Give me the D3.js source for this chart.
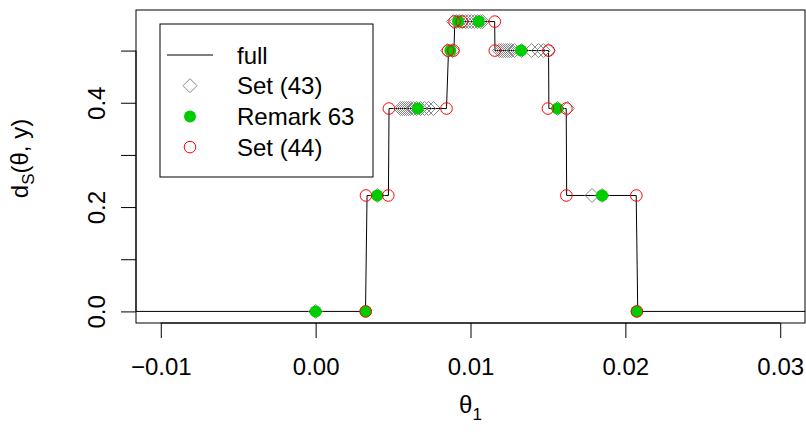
<!DOCTYPE html>
<html>
<head>
<meta charset="utf-8">
<script src="https://cdn.jsdelivr.net/npm/d3@7"></script>
<style>
  html, body { margin: 0; padding: 0; background: #fff; }
  svg { display: block; font-family: "Liberation Sans", Arial, Helvetica, sans-serif; }
</style>
</head>
<body>
<svg id="chart" width="806" height="441"></svg>
<script>
// Step function d_S(theta, y) over theta_1
const fullTheta = [-0.012, 0.00322, 0.00332, 0.00470, 0.00474, 0.00845, 0.00858, 0.00893, 0.00899,
                   0.01156, 0.01158, 0.01504, 0.01506, 0.01618, 0.01621, 0.02070, 0.02080, 0.032];
const fullD     = [0, 0, 2/9, 2/9, 7/18, 7/18, 0.5, 0.5, 5/9,
                   5/9, 0.5, 0.5, 7/18, 7/18, 2/9, 2/9, 0, 0];

// Set (43): points found by the grid search
const set43Theta = [0.0000, 0.00398,
                    0.00548, 0.00561, 0.00574, 0.00587, 0.00600, 0.00613, 0.00632, 0.00652, 0.00677, 0.00703, 0.00729, 0.00761,
                    0.00852, 0.00884,
                    0.00890, 0.00910, 0.00929, 0.00948, 0.00968, 0.00987, 0.01006, 0.01026, 0.01045, 0.01064, 0.01077,
                    0.01187, 0.01200, 0.01213, 0.01226, 0.01239, 0.01252, 0.01265, 0.01284, 0.01329, 0.01394, 0.01439, 0.01471, 0.01503,
                    0.01561, 0.01626,
                    0.01785, 0.01850];
const set43D    = [0, 2/9,
                   7/18, 7/18, 7/18, 7/18, 7/18, 7/18, 7/18, 7/18, 7/18, 7/18, 7/18, 7/18,
                   0.5, 0.5,
                   5/9, 5/9, 5/9, 5/9, 5/9, 5/9, 5/9, 5/9, 5/9, 5/9, 5/9,
                   0.5, 0.5, 0.5, 0.5, 0.5, 0.5, 0.5, 0.5, 0.5, 0.5, 0.5, 0.5, 0.5,
                   7/18, 7/18,
                   2/9, 2/9];

// Remark 63
const remarkTheta = [0.0000, 0.00323, 0.02073, 0.00398, 0.00660, 0.00870, 0.00920, 0.01054, 0.01327, 0.01561, 0.01850];
const remarkD     = [0, 0, 0, 2/9, 7/18, 0.5, 5/9, 5/9, 0.5, 7/18, 2/9];

// Set (44)
const set44Theta = [0.00323, 0.00325, 0.00469, 0.00473, 0.00845, 0.00855, 0.00890, 0.00897, 0.00944,
                    0.01157, 0.01157, 0.01505, 0.01500, 0.01619, 0.01619, 0.02071, 0.02075];
const set44D     = [0, 2/9, 2/9, 7/18, 7/18, 0.5, 0.5, 5/9, 5/9,
                    5/9, 0.5, 0.5, 7/18, 7/18, 2/9, 2/9, 0];

const xTicks = [-0.01, 0.00, 0.01, 0.02, 0.03];
const xTickLabels = ["\u22120.01", "0.00", "0.01", "0.02", "0.03"];
const yTicks = [0, 0.1, 0.2, 0.3, 0.4, 0.5];
const yTickLabels = ["0.0", "", "0.2", "", "0.4", ""];
const legendLabels = ["full", "Set (43)", "Remark 63", "Set (44)"];

const svg = d3.select("#chart");
const plot = { left: 136, right: 805, top: 10, bottom: 323 };

// Axis ranges padded by 4% like a default base-graphics plot
const xlim = [-0.01, 0.03], ylim = [0, 5/9];
const xpad = (xlim[1] - xlim[0]) * 0.04, ypad = (ylim[1] - ylim[0]) * 0.04;
const x = d3.scaleLinear().domain([xlim[0] - xpad, xlim[1] + xpad]).range([plot.left, plot.right]);
const y = d3.scaleLinear().domain([ylim[0] - ypad, ylim[1] + ypad]).range([plot.bottom, plot.top]);

svg.append("defs").append("clipPath").attr("id", "clip")
  .append("rect").attr("x", plot.left).attr("y", plot.top)
  .attr("width", plot.right - plot.left).attr("height", plot.bottom - plot.top);

const g = svg.append("g").attr("clip-path", "url(#clip)");

// marker sizes
const rDiamond = 7, rGreen = 6, rRed = 5.8;

// full step line
const fullPts = fullTheta.map((t, i) => [t, fullD[i]]);
g.append("path")
  .datum(fullPts)
  .attr("fill", "none").attr("stroke", "#000").attr("stroke-width", 1)
  .attr("d", d3.line().x(d => x(d[0])).y(d => y(d[1])));

// diamonds
const diamond = (cx, cy, r) => `M${cx},${cy - r}L${cx + r},${cy}L${cx},${cy + r}L${cx - r},${cy}Z`;
g.selectAll("path.s43").data(set43Theta.map((t, i) => [t, set43D[i]])).join("path")
  .attr("class", "s43")
  .attr("d", d => diamond(x(d[0]), y(d[1]), rDiamond))
  .attr("fill", "none").attr("stroke", "#878787").attr("stroke-width", 1);

// filled green points
g.selectAll("circle.r63").data(remarkTheta.map((t, i) => [t, remarkD[i]])).join("circle")
  .attr("class", "r63")
  .attr("cx", d => x(d[0])).attr("cy", d => y(d[1])).attr("r", rGreen)
  .attr("fill", "#00cd00");

// open red circles
g.selectAll("circle.s44").data(set44Theta.map((t, i) => [t, set44D[i]])).join("circle")
  .attr("class", "s44")
  .attr("cx", d => x(d[0])).attr("cy", d => y(d[1])).attr("r", rRed)
  .attr("fill", "none").attr("stroke", "#ff0000").attr("stroke-width", 1);

// box
svg.append("rect")
  .attr("x", plot.left).attr("y", plot.top)
  .attr("width", plot.right - plot.left).attr("height", plot.bottom - plot.top)
  .attr("fill", "none").attr("stroke", "#000").attr("stroke-width", 1);

// axes
const fontSize = 24;
const xAxis = d3.axisBottom(x).tickValues(xTicks).tickSize(15).tickPadding(20)
  .tickFormat((d, i) => xTickLabels[i]);
const gx = svg.append("g").attr("transform", `translate(0,${plot.bottom})`).call(xAxis);
gx.select(".domain").attr("d", `M${x(xTicks[0])},0H${x(xTicks[xTicks.length - 1])}`);
gx.selectAll("text").attr("font-size", fontSize).attr("font-family", null).attr("fill", "#000");

const yAxis = d3.axisLeft(y).tickValues(yTicks).tickSize(15).tickFormat((d, i) => yTickLabels[i]);
const gy = svg.append("g").attr("transform", `translate(${plot.left},0)`).call(yAxis);
gy.select(".domain").attr("d", `M0,${y(yTicks[0])}V${y(yTicks[yTicks.length - 1])}`);
gy.selectAll("text")
  .attr("font-size", fontSize).attr("font-family", null).attr("fill", "#000")
  .attr("text-anchor", "middle").attr("dy", null).attr("x", null)
  .attr("transform", d => `translate(-40,0) rotate(-90)`)
  .attr("dominant-baseline", "central");
svg.selectAll(".tick line").attr("stroke", "#000");

// axis titles
const xt = svg.append("text")
  .attr("x", (plot.left + plot.right) / 2).attr("y", 413)
  .attr("text-anchor", "middle").attr("font-size", fontSize);
xt.append("tspan").text("\u03b8");
xt.append("tspan").attr("dy", 7).attr("font-size", 17).text("1");

const yt = svg.append("text")
  .attr("transform", `translate(28,${(plot.top + plot.bottom) / 2 - 8}) rotate(-90)`)
  .attr("text-anchor", "middle").attr("font-size", fontSize);
yt.append("tspan").text("d");
yt.append("tspan").attr("dy", 6).attr("font-size", 17).text("S");
yt.append("tspan").attr("dy", -6).text("(\u03b8, y)");

// legend
const lg = svg.append("g");
lg.append("rect").attr("x", 160).attr("y", 24).attr("width", 213).attr("height", 153)
  .attr("fill", "#fff").attr("stroke", "#000").attr("stroke-width", 1);
const rowY = i => 55 + i * 30.7;
const symX = 190;
lg.append("line").attr("x1", 167).attr("x2", 213).attr("y1", rowY(0)).attr("y2", rowY(0))
  .attr("stroke", "#000").attr("stroke-width", 1);
lg.append("path").attr("d", diamond(symX, rowY(1), rDiamond))
  .attr("fill", "none").attr("stroke", "#878787");
lg.append("circle").attr("cx", symX).attr("cy", rowY(2)).attr("r", rGreen).attr("fill", "#00cd00");
lg.append("circle").attr("cx", symX).attr("cy", rowY(3)).attr("r", rRed)
  .attr("fill", "none").attr("stroke", "#ff0000");
lg.selectAll("text.lab").data(legendLabels).join("text")
  .attr("class", "lab")
  .attr("x", 237).attr("y", (d, i) => rowY(i))
  .attr("dominant-baseline", "central")
  .attr("font-size", fontSize).text(d => d);
</script>
</body>
</html>
